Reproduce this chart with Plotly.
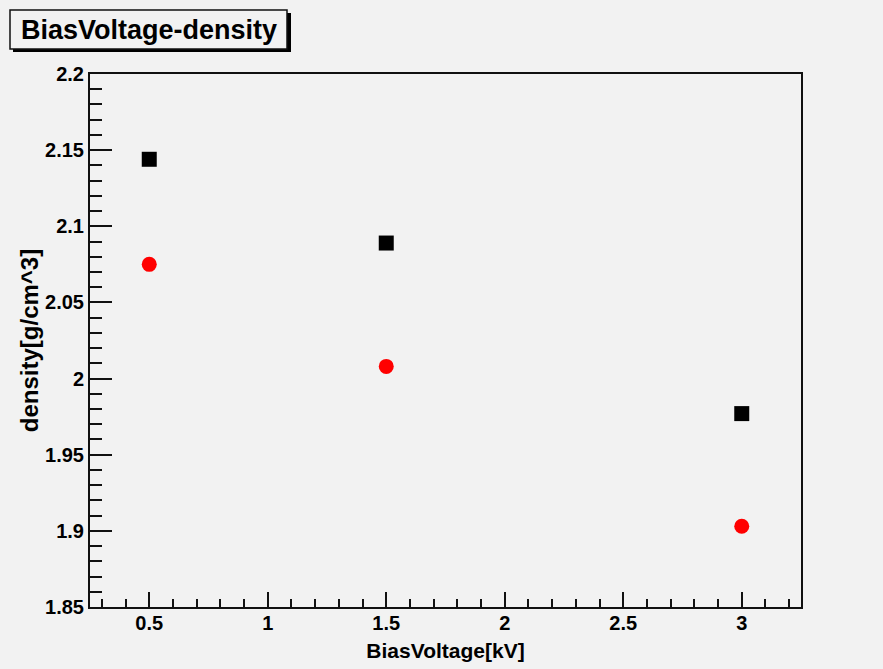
import plotly.graph_objects as go

# Bias voltage settings [kV] and measured densities [g/cm^3]
bias_voltage = [0.5, 1.5, 3.0]
density_square = [2.144, 2.089, 1.977]
density_circle = [2.075, 2.008, 1.903]

# Axis ticks
x_tickvals = [0.5, 1, 1.5, 2, 2.5, 3]
x_ticktext = ["0.5", "1", "1.5", "2", "2.5", "3"]
y_tickvals = [1.85, 1.9, 1.95, 2.0, 2.05, 2.1, 2.15, 2.2]
y_ticktext = ["1.85", "1.9", "1.95", "2", "2.05", "2.1", "2.15", "2.2"]

BG = "#f2f2f2"
INK = "#111111"
FONT = "Liberation Sans"

fig = go.Figure()
fig.add_trace(go.Scatter(
    x=bias_voltage, y=density_square, mode="markers", name="density (square)",
    marker=dict(symbol="square", size=15, color="black", line=dict(width=0)),
))
fig.add_trace(go.Scatter(
    x=bias_voltage, y=density_circle, mode="markers", name="density (circle)",
    marker=dict(symbol="circle", size=15, color="#ff0000", line=dict(width=0)),
))

axis_common = dict(
    showline=True, linecolor=INK, linewidth=2, mirror=True,
    showgrid=False, zeroline=False, ticks="inside", tickcolor=INK, tickwidth=2,
    tickfont=dict(family=FONT, size=20, color="black", weight="bold"),
    tickmode="array",
)

fig.update_xaxes(
    **axis_common, range=[0.25, 3.25], tickvals=x_tickvals, ticktext=x_ticktext,
    ticklen=15, ticklabelstandoff=-3,
    minor=dict(tickmode="linear", tick0=0.0, dtick=0.1, ticks="inside",
               ticklen=8, tickwidth=2, tickcolor=INK),
    title=dict(text="BiasVoltage[kV]", standoff=10,
               font=dict(family=FONT, size=21, color="black", weight="bold")),
)
fig.update_yaxes(
    **axis_common, range=[1.85, 2.2], tickvals=y_tickvals, ticktext=y_ticktext,
    ticklen=22,
    minor=dict(tickmode="linear", tick0=1.85, dtick=0.01, ticks="inside",
               ticklen=12, tickwidth=2, tickcolor=INK),
    title=dict(text="density[g/cm^3]", standoff=0,
               font=dict(family=FONT, size=24, color="black", weight="bold")),
)

# Title box with drop shadow, positioned in pixels relative to the plot's top-left corner
box = dict(xref="paper", yref="paper", xsizemode="pixel", ysizemode="pixel",
           xanchor=0, yanchor=1)
fig.add_shape(type="rect", **box, x0=-77, x1=201, y0=22, y1=61,
              fillcolor="black", line=dict(width=0), layer="above")
fig.add_shape(type="rect", **box, x0=-80, x1=197, y0=25, y1=64,
              fillcolor=BG, line=dict(color=INK, width=1.5), layer="above")
fig.add_annotation(
    text="BiasVoltage-density", xref="paper", yref="paper", x=0, y=1,
    xanchor="center", yanchor="middle", xshift=-80 + 138.5, yshift=44.5,
    showarrow=False, font=dict(family=FONT, size=27, color="black", weight="bold"),
)

fig.update_layout(
    width=883, height=669,
    margin=dict(l=90, r=82, t=74, b=62, autoexpand=False),
    paper_bgcolor=BG, plot_bgcolor=BG,
    showlegend=False,
)

fig.write_html("out.html")
